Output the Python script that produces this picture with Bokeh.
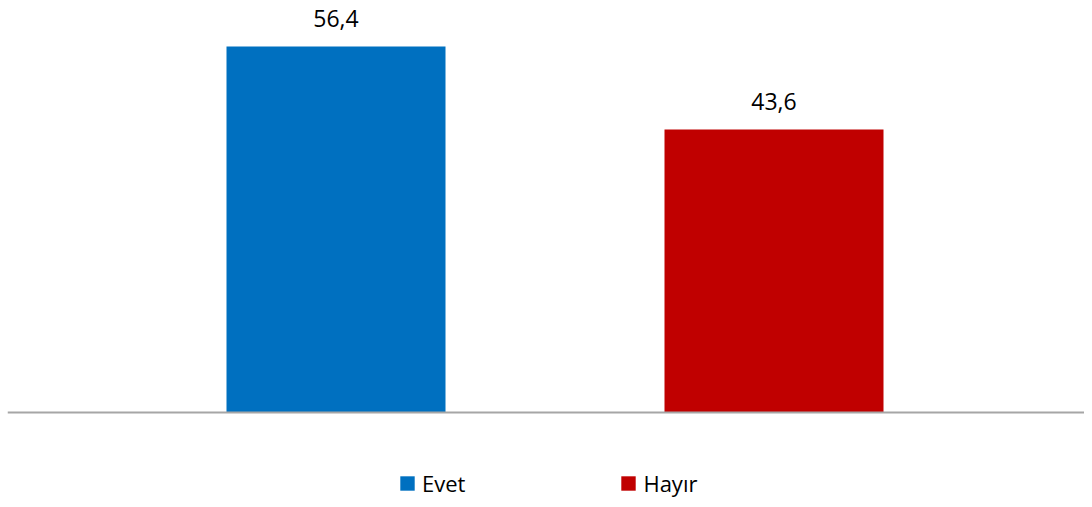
from bokeh.plotting import figure
from bokeh.models import ColumnDataSource, Range1d, Span, Legend, LegendItem
from bokeh.core.properties import value
from bokeh.embed import file_html
from bokeh.resources import INLINE

categories = ["Evet", "Hayır"]
values = [56.4, 43.6]
labels = ["56,4", "43,6"]
colors = ["#0070C0", "#C00000"]

FONT = "Open Sans"

src = ColumnDataSource(dict(x=[0, 1], top=values, label=labels, color=colors, cat=categories))

p = figure(width=1084, height=499, output_backend="svg", toolbar_location=None,
           x_range=Range1d(-0.75, 1.7089), y_range=Range1d(-13.41, 63.49),
           min_border=0, min_border_left=7, min_border_right=0,
           min_border_top=0, min_border_bottom=0)
p.xaxis.visible = False
p.yaxis.visible = False
p.xgrid.visible = False
p.ygrid.visible = False
p.outline_line_color = None
p.background_fill_color = "white"

r_bars = []
for i in range(len(categories)):
    s = ColumnDataSource(dict(x=[i], top=[values[i]]))
    r = p.vbar(x="x", top="top", bottom=0, width=0.5, source=s,
               fill_color=colors[i], line_color=None)
    r_bars.append(r)

p.add_layout(Span(location=0, dimension="width", line_color="#A6A6A6", line_width=2))

p.text(x="x", y="top", text="label", source=src, text_align="center",
       text_baseline="alphabetic", y_offset=-28, text_font=value(FONT),
       text_font_size="23px", text_color="#000000")

legend = Legend(items=[LegendItem(label=categories[i], renderers=[r_bars[i]]) for i in range(2)],
                orientation="horizontal", location=(391, 1),
                glyph_width=18, glyph_height=18, label_standoff=6, spacing=154,
                padding=0, margin=0, border_line_alpha=0, background_fill_alpha=0,
                label_text_font=FONT, label_text_font_size="22px", label_text_color="#000000",
                label_height=20)
p.add_layout(legend, "center")

open("out.html", "w").write(file_html(p, INLINE))
